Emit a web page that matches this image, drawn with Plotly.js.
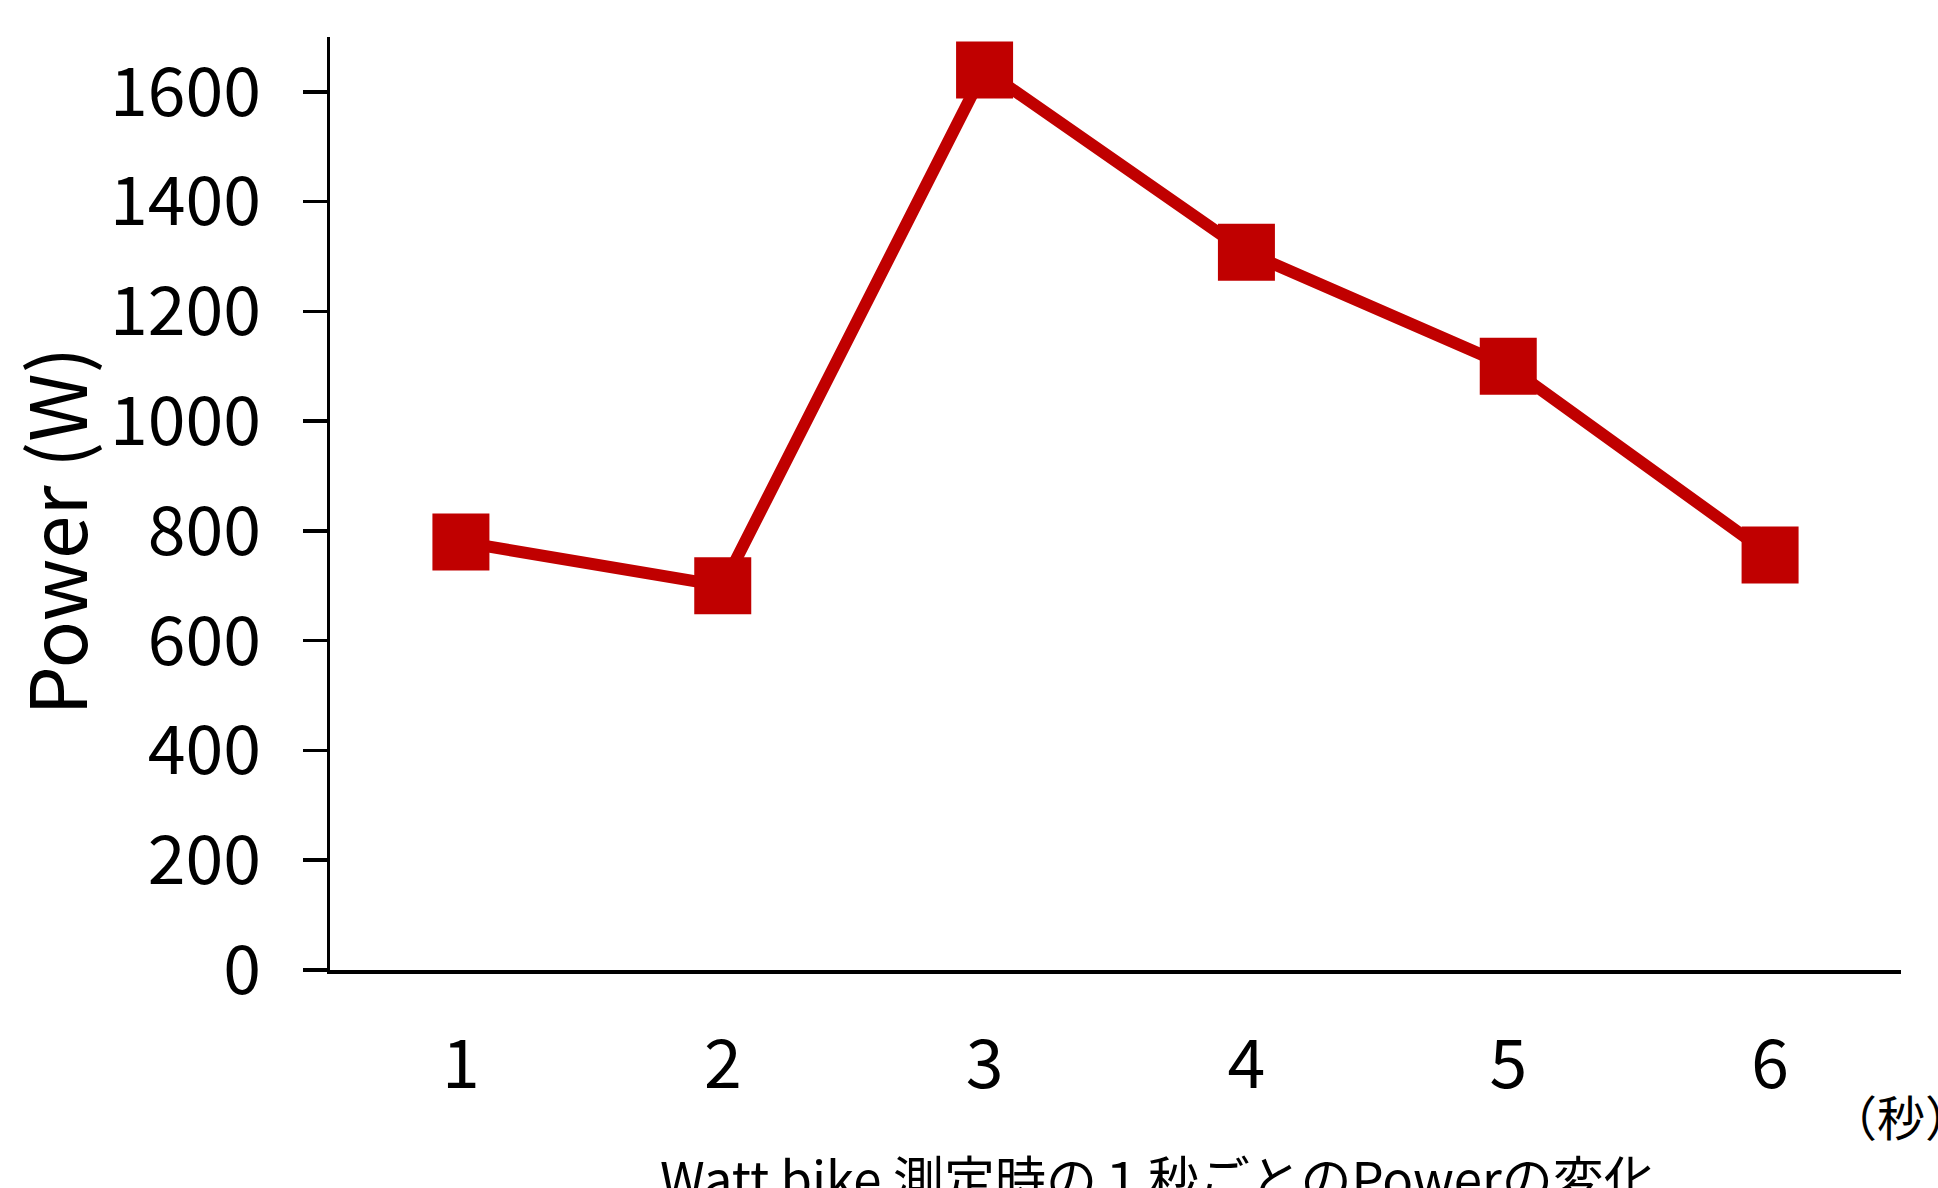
<!DOCTYPE html>
<html>
<head>
<meta charset="utf-8">
<script src="https://cdn.plot.ly/plotly-3.0.1.min.js"></script>
<style>html,body{margin:0;padding:0;background:#fff;}#chart{width:1938px;height:1188px;}</style>
</head>
<body>
<div id="chart"></div>
<script>
// Data
const seconds = ["1", "2", "3", "4", "5", "6"];
const power = [780, 700, 1640, 1308, 1100, 756];
const yTickValues = [0, 200, 400, 600, 800, 1000, 1200, 1400, 1600];
const yTitle = "Power (W)";
const xTitle = "Watt bike 測定時の１秒ごとのPowerの変化";
const xUnit = "（秒）";

const FONT = "'Noto Sans CJK JP', 'Noto Sans', sans-serif";

const trace = {
  x: seconds,
  y: power,
  type: "scatter",
  mode: "lines+markers",
  line: {color: "#C00000", width: 12},
  marker: {symbol: "square", size: 57, color: "#C00000"},
  cliponaxis: false,
  hoverinfo: "none"
};

const layout = {
  width: 1938,
  height: 1188,
  margin: {l: 330, r: 37, t: 37, b: 218, pad: 0},
  paper_bgcolor: "#ffffff",
  plot_bgcolor: "#ffffff",
  showlegend: false,
  font: {family: FONT, color: "#000000"},
  xaxis: {
    type: "category",
    range: [-0.5, 5.5],
    showline: true,
    linecolor: "#000000",
    linewidth: 3.5,
    showgrid: false,
    zeroline: false,
    ticks: "",
    ticklabelstandoff: 33,
    tickfont: {family: FONT, size: 68, color: "#000000"}
  },
  yaxis: {
    range: [0, 1700],
    tickvals: yTickValues,
    showline: true,
    linecolor: "#000000",
    linewidth: 3.5,
    showgrid: false,
    zeroline: false,
    ticks: "outside",
    ticklen: 24,
    tickwidth: 3.5,
    tickcolor: "#000000",
    ticklabelstandoff: 28,
    tickfont: {family: FONT, size: 68, color: "#000000"}
  },
  annotations: [
    {
      text: yTitle, xref: "paper", yref: "paper",
      x: -0.176, y: 0.4705, xanchor: "center", yanchor: "middle",
      textangle: -90, showarrow: false,
      font: {family: FONT, size: 78, color: "#000000"}
    },
    {
      text: xTitle, xref: "paper", yref: "paper",
      x: 0.527, y: -0.222, xanchor: "center", yanchor: "middle",
      showarrow: false,
      font: {family: FONT, size: 51, color: "#000000"}
    },
    {
      text: xUnit, xref: "paper", yref: "paper",
      x: 0.953, y: -0.155, xanchor: "left", yanchor: "middle",
      showarrow: false,
      font: {family: FONT, size: 48, color: "#000000"}
    }
  ]
};

Plotly.newPlot("chart", [trace], layout, {staticPlot: true, displayModeBar: false});
</script>
</body>
</html>
